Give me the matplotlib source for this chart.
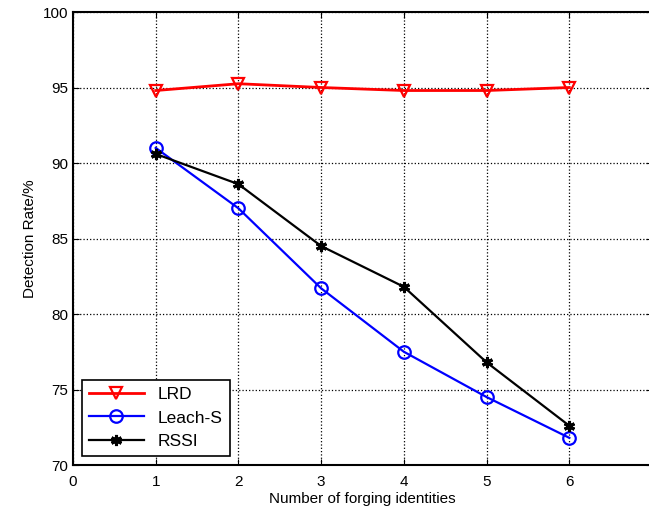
import matplotlib
matplotlib.use("Agg")
import matplotlib.pyplot as plt

x = [1, 2, 3, 4, 5, 6]
lrd = [94.8, 95.25, 95.0, 94.8, 94.8, 95.0]
leach = [91.0, 87.0, 81.7, 77.5, 74.5, 71.8]
rssi = [90.6, 88.6, 84.5, 81.8, 76.8, 72.6]
xticks = [0, 1, 2, 3, 4, 5, 6, 7]
yticks = [70, 75, 80, 85, 90, 95, 100]

plt.rcParams['font.family'] = ['Liberation Sans', 'DejaVu Sans']
fig = plt.figure(figsize=(6.49, 5.15), dpi=100)
ax = fig.add_axes([73/649, 50/515, 579/649, 453/515])
ax.plot(x, lrd, color='red', marker='v', markersize=9, markerfacecolor='none',
        markeredgewidth=1.6, linewidth=2, label='LRD')
ax.plot(x, leach, color='blue', marker='o', markersize=9, markerfacecolor='none',
        markeredgewidth=1.6, linewidth=1.6, label='Leach-S')
ax.plot(x, rssi, color='black', marker=(6, 2, 0), markersize=8, markeredgewidth=2.2,
        linewidth=1.6, label='RSSI')
ax.set_xlim(0, 7)
ax.set_ylim(70, 100)
ax.set_xticks(xticks)
ax.set_yticks(yticks)
ax.grid(True, color='black', linestyle=':', linewidth=0.9)
ax.tick_params(direction='in', labelsize=11, length=4, top=True, right=True)
ax.tick_params(axis='x', pad=7)
for s in ax.spines.values():
    s.set_linewidth(1.5)
ax.set_xlabel('Number of forging identities', fontsize=11, labelpad=2)
ax.set_ylabel('Detection Rate/%', fontsize=11)
leg = ax.legend(loc='lower left', fontsize=12.5, fancybox=False, edgecolor='black',
                framealpha=1, handlelength=3.2, borderaxespad=0.5, labelspacing=0.5)
leg.get_frame().set_linewidth(1.2)
fig.savefig('out.png', dpi=100)
